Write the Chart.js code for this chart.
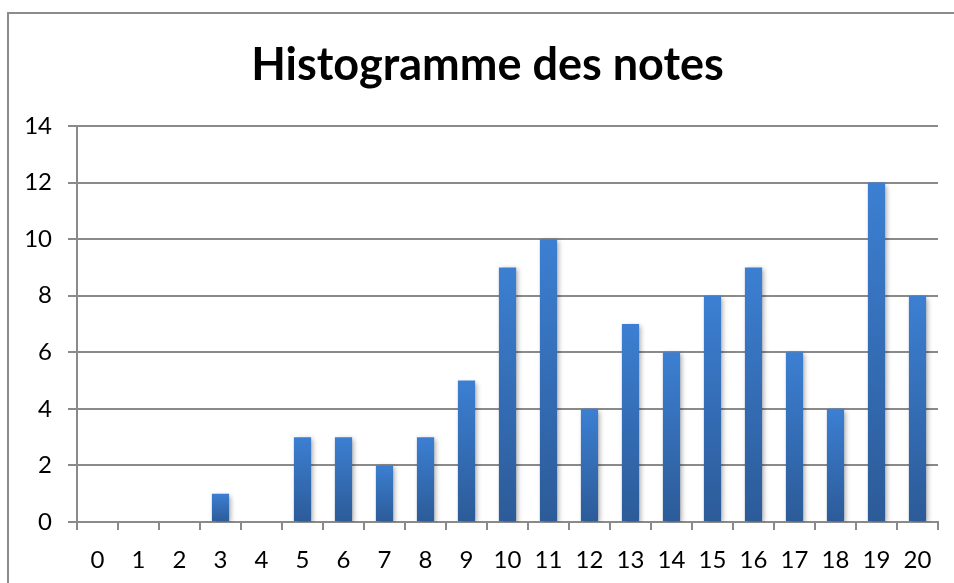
<!DOCTYPE html>
<html>
<head>
<meta charset="utf-8">
<script src="https://cdn.jsdelivr.net/npm/chart.js@4"></script>
<style>
  html, body { margin: 0; padding: 0; background: #fff; overflow: hidden; }
  #wrap { position: relative; width: 954px; height: 583px; }
  #frame { position: absolute; left: 7px; top: 12px; width: 1000px; height: 700px;
           border-left: 2px solid #8c8c8c; border-top: 2px solid #8c8c8c; box-sizing: border-box; }
  canvas { position: absolute; left: 0; top: 0; }
</style>
</head>
<body>
<div id="wrap">
  <div id="frame"></div>
  <canvas id="chart" width="954" height="583"></canvas>
</div>
<script>
const chartTitle = "Histogramme des notes";
const notes = ["0", "1", "2", "3", "4", "5", "6", "7", "8", "9", "10",
               "11", "12", "13", "14", "15", "16", "17", "18", "19", "20"];
const effectifs = [0, 0, 0, 1, 0, 3, 3, 2, 3, 5, 9, 10, 4, 7, 6, 8, 9, 6, 4, 12, 8];
const yTicks = [0, 2, 4, 6, 8, 10, 12, 14];

const AXIS = '#8a8a8a';
const FONT = 'Lato, "Open Sans", sans-serif';

// per-bar gradient, light on top, dark at the base
function barFill(ctx) {
    const chart = ctx.chart;
    const y = chart.scales.y;
    if (!y || ctx.parsed === undefined) return '#3a7bcc';
    const top = y.getPixelForValue(ctx.parsed.y);
    const bottom = y.getPixelForValue(0);
    if (!isFinite(top) || top === bottom) return '#3a7bcc';
    const g = chart.ctx.createLinearGradient(0, top, 0, bottom);
    g.addColorStop(0, '#3c7fd2');
    g.addColorStop(1, '#2c5b98');
    return g;
}

const titlePlugin = {
    id: 'excelTitle',
    afterDraw(chart) {
        const c = chart.ctx;
        c.save();
        c.font = 'bold 45px ' + FONT;
        c.fillStyle = '#000';
        c.textAlign = 'center';
        c.textBaseline = 'alphabetic';
        c.fillText(chartTitle, 487.5, 80);
        c.restore();
    }
};

const shadowPlugin = {
    id: 'barShadow',
    beforeDatasetsDraw(chart) {
        const c = chart.ctx;
        c.save();
        c.shadowColor = 'rgba(0,0,0,0.35)';
        c.shadowBlur = 5;
        c.shadowOffsetX = 2;
        c.shadowOffsetY = 2;
    },
    afterDatasetsDraw(chart) {
        chart.ctx.restore();
    }
};

new Chart(document.getElementById('chart'), {
    type: 'bar',
    data: {
        labels: notes,
        datasets: [{
            label: 'Effectif',
            data: effectifs,
            backgroundColor: barFill,
            borderWidth: 0,
            barPercentage: 0.42,
            categoryPercentage: 1.0
        }]
    },
    options: {
        responsive: false,
        animation: false,
        layout: { padding: { left: 0, right: 16, top: 126, bottom: 0 } },
        plugins: {
            legend: { display: false },
            title: { display: false },
            tooltip: { enabled: false }
        },
        scales: {
            x: {
                grid: {
                    offset: true,
                    drawOnChartArea: false,
                    drawTicks: true,
                    tickLength: 8,
                    color: AXIS,
                    lineWidth: 2
                },
                border: { color: AXIS, width: 2 },
                ticks: {
                    color: '#000',
                    font: { family: FONT, size: 24 },
                    padding: 16,
                    maxRotation: 0,
                    autoSkip: false
                },
                afterFit(scale) { scale.height = 61; }
            },
            y: {
                min: 0,
                max: 14,
                afterBuildTicks(scale) { scale.ticks = yTicks.map(v => ({ value: v })); },
                grid: {
                    color: AXIS,
                    lineWidth: 2,
                    tickLength: 9
                },
                border: { color: AXIS, width: 2 },
                ticks: {
                    color: '#000',
                    font: { family: FONT, size: 24 },
                    padding: 16
                },
                afterFit(scale) { scale.width = 77; }
            }
        }
    },
    plugins: [shadowPlugin, titlePlugin]
});
</script>
</body>
</html>
